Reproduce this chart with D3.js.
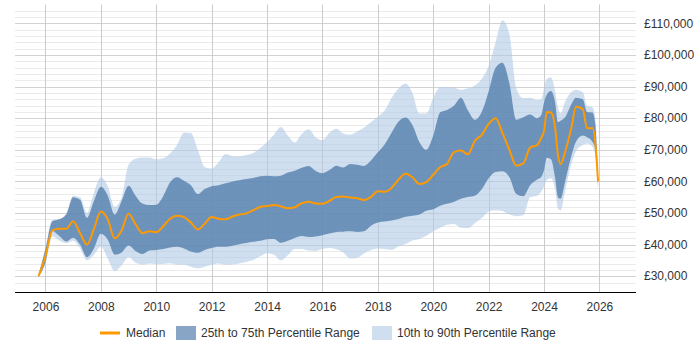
<!doctype html>
<html>
<head>
<meta charset="utf-8">
<title>Salary trend</title>
<script src="https://d3js.org/d3.v7.min.js"></script>
<style>
  html, body { margin:0; padding:0; background:#fff; overflow:hidden }
  svg text { font-family: "Liberation Sans", Arial, sans-serif; font-size: 12px; fill: #333 }
</style>
</head>
<body>
<div id="chart"></div>
<script>
// decimal years of each sample
var years = [2005.75, 2006.0, 2006.25, 2006.5, 2006.75, 2007.0, 2007.25, 2007.5, 2007.75,
  2008.0, 2008.25, 2008.5, 2008.75, 2009.0, 2009.25, 2009.5, 2009.75,
  2010.0, 2010.25, 2010.5, 2010.75, 2011.0, 2011.25, 2011.5, 2011.75,
  2012.0, 2012.25, 2012.5, 2012.75, 2013.0, 2013.25, 2013.5, 2013.75,
  2014.0, 2014.25, 2014.5, 2014.75, 2015.0, 2015.25, 2015.5, 2015.75,
  2016.0, 2016.25, 2016.5, 2016.75, 2017.0, 2017.25, 2017.5, 2017.75,
  2018.0, 2018.25, 2018.5, 2018.75, 2019.0, 2019.25, 2019.5, 2019.75,
  2020.0, 2020.25, 2020.5, 2020.75, 2021.0, 2021.25, 2021.5, 2021.75,
  2022.0, 2022.25, 2022.5, 2022.75, 2023.0, 2023.25, 2023.5, 2023.75,
  2023.9, 2024.0, 2024.1, 2024.25, 2024.4, 2024.5, 2024.6, 2024.75,
  2025.0, 2025.15, 2025.4, 2025.55, 2025.75, 2025.85, 2025.95];

// salaries in £ thousands
var p10K = [29.5, 34.0, 42.6, 41.3, 40.4, 41.2, 38.8, 35.0, 36.8,
  39.3, 35.5, 31.6, 33.5, 36.0, 34.3, 33.6, 34.0,
  33.8, 33.9, 34.1, 33.6, 33.6, 33.0, 32.5, 33.0,
  33.6, 34.0, 33.6, 33.7, 34.0, 34.5, 35.1, 36.3,
  37.3, 36.8, 35.0, 36.6, 38.6, 38.6, 38.1, 38.0,
  38.6, 38.9, 38.5, 37.5, 35.6, 35.8, 37.2, 38.3,
  38.8, 38.6, 38.3, 39.5, 40.2, 41.3, 41.8, 42.8,
  44.2, 45.3, 46.3, 46.5, 45.3, 45.2, 46.8, 48.4,
  50.5, 50.9, 50.6, 49.5, 49.0, 49.3, 55.0, 55.5,
  56.8, 58.5, 60.5, 61.0, 57.5, 51.5, 50.8, 56.5,
  66.0, 69.5, 71.5, 72.0, 71.0, 68.0, 57.5];

var p25K = [29.8, 34.5, 44.3, 42.7, 41.0, 42.2, 40.0, 36.0, 38.8,
  43.4, 41.5, 36.8, 37.5, 39.7, 38.0, 37.0, 38.1,
  38.3, 38.6, 39.1, 39.3, 38.8, 37.8, 37.4, 38.3,
  38.9, 39.3, 39.3, 39.6, 40.1, 40.5, 40.9, 41.2,
  41.7, 41.8, 40.6, 41.2, 42.1, 42.7, 42.4, 42.6,
  43.0, 43.5, 44.0, 44.1, 44.2, 44.0, 44.2, 46.0,
  47.0, 47.3, 47.6, 48.1, 48.8, 49.1, 49.5, 50.7,
  51.2, 52.3, 52.9, 53.6, 54.5, 55.1, 55.5, 57.5,
  61.0, 63.0, 63.2, 61.3, 56.0, 55.3, 58.8, 60.6,
  61.4, 63.5, 67.5, 67.0, 61.0, 55.0, 54.5, 59.5,
  68.5, 72.5, 74.5, 74.0, 72.5, 70.5, 58.5];

var medianK = [30.0, 36.3, 44.5, 45.0, 45.0, 47.4, 43.6, 40.0, 45.0,
  50.5, 48.0, 42.0, 44.5, 49.8, 46.5, 43.6, 44.2,
  43.9, 45.8, 48.2, 49.1, 48.7, 47.0, 44.8, 46.6,
  48.7, 48.2, 48.0, 48.9, 49.5, 49.9, 50.9, 51.9,
  52.2, 52.5, 52.1, 51.5, 51.8, 53.1, 53.6, 53.0,
  52.9, 53.8, 55.1, 55.2, 54.9, 54.7, 54.1, 55.1,
  56.9, 56.7, 58.0, 60.6, 62.4, 61.3, 59.2, 59.8,
  62.1, 64.5, 65.5, 69.3, 69.8, 68.6, 72.8, 74.7,
  78.2, 80.0, 75.3, 70.0, 65.0, 65.7, 70.7, 71.5,
  73.8, 76.0, 82.0, 81.8, 77.0, 68.5, 65.5, 69.0,
  77.5, 83.6, 82.9, 76.8, 76.9, 72.3, 60.0];

var p75K = [30.5, 38.5, 47.4, 48.0, 49.5, 55.0, 54.2, 48.5, 53.8,
  58.3, 55.5, 49.5, 53.8, 58.6, 55.5, 53.0, 52.5,
  52.6, 55.3, 59.7, 61.3, 60.2, 58.8, 56.0, 57.6,
  58.5, 58.8, 59.4, 60.0, 60.4, 60.8, 61.1, 61.6,
  61.8, 61.6, 61.8, 62.8, 63.4, 64.3, 64.9, 63.4,
  62.6, 63.6, 65.0, 64.4, 65.5, 65.3, 64.9, 66.6,
  69.2, 71.8, 75.5, 79.0, 80.2, 77.8, 72.5, 70.0,
  74.5, 81.9, 82.6, 84.0, 86.5, 82.5, 79.5, 82.0,
  88.5, 96.0, 97.6, 91.0, 79.5, 80.3, 81.2, 80.0,
  81.0, 85.0, 87.5, 88.6, 85.0, 78.8, 79.2, 80.2,
  84.7, 86.5, 86.0, 82.0, 81.8, 78.0, 60.4];

var p90K = [30.5, 39.0, 47.8, 48.0, 50.0, 55.5, 55.0, 50.0, 56.5,
  61.3, 58.5, 52.0, 55.0, 65.3, 67.2, 67.6, 67.6,
  67.0, 67.3, 68.8, 71.5, 75.5, 75.3, 70.0, 64.5,
  64.1, 66.1, 68.7, 68.0, 68.0, 68.4, 69.0, 70.5,
  72.5, 74.8, 77.2, 74.5, 72.3, 75.0, 76.5, 74.0,
  73.1, 75.4, 76.7, 75.2, 74.8, 75.8, 77.0, 78.8,
  80.5, 82.5, 86.5, 89.5, 91.0, 88.0, 81.5, 81.5,
  86.5, 89.8, 89.9, 89.7, 89.0, 89.5, 90.4, 92.5,
  96.5, 104.0, 111.0, 106.5, 89.5, 86.4, 86.5, 85.8,
  86.0, 89.5, 92.5, 93.0, 88.5, 83.5, 81.5, 85.0,
  88.5, 89.0, 88.2, 84.0, 83.4, 80.0, 61.0];

var xTicks = [2006, 2008, 2010, 2012, 2014, 2016, 2018, 2020, 2022, 2024, 2026];
var yTicksK = [30, 40, 50, 60, 70, 80, 90, 100, 110];
var legendLabels = ["Median", "25th to 75th Percentile Range", "10th to 90th Percentile Range"];

var svg = d3.select("#chart").append("svg")
  .attr("width", 700).attr("height", 350);

var x = d3.scaleLinear().domain([2004.9, 2027.32]).range([15, 636]);
var y = d3.scaleLinear().domain([25, 116]).range([292, 4.5]);

// minor + major horizontal grid
svg.append("g").selectAll("line")
  .data(d3.range(28, 115, 2).filter(function(v) { return v % 10 !== 0; }))
  .join("line")
  .attr("x1", 15).attr("x2", 636)
  .attr("y1", function(d) { return Math.round(y(d)) + 0.5; })
  .attr("y2", function(d) { return Math.round(y(d)) + 0.5; })
  .attr("stroke", "#ebebeb");

svg.append("g").selectAll("line")
  .data(yTicksK)
  .join("line")
  .attr("x1", 15).attr("x2", 636)
  .attr("y1", function(d) { return Math.round(y(d)) + 0.5; })
  .attr("y2", function(d) { return Math.round(y(d)) + 0.5; })
  .attr("stroke", "#d2d2d2");

svg.append("g").selectAll("line")
  .data(xTicks)
  .join("line")
  .attr("x1", function(d) { return Math.round(x(d)) + 0.5; })
  .attr("x2", function(d) { return Math.round(x(d)) + 0.5; })
  .attr("y1", 4.5).attr("y2", 292)
  .attr("stroke", "#cccccc");

var idx = d3.range(years.length);

function band(lo, hi) {
  return d3.area()
    .x(function(i) { return x(years[i]); })
    .y0(function(i) { return y(lo[i]); })
    .y1(function(i) { return y(hi[i]); })
    .curve(d3.curveMonotoneX)(idx);
}

svg.append("path").attr("d", band(p10K, p90K))
  .attr("fill", "#b0c9e4").attr("fill-opacity", 0.6);
svg.append("path").attr("d", band(p25K, p75K))
  .attr("fill", "#5580ae").attr("fill-opacity", 0.8);

svg.append("path")
  .attr("d", d3.line()
    .x(function(i) { return x(years[i]); })
    .y(function(i) { return y(medianK[i]); })
    .curve(d3.curveMonotoneX)(idx))
  .attr("fill", "none").attr("stroke", "#ff9900").attr("stroke-width", 2);

// x axis
var xAxis = svg.append("g").attr("transform", "translate(0,292)")
  .call(d3.axisBottom(x).tickValues(xTicks).tickSize(0).tickPadding(10).tickFormat(d3.format("d")));
xAxis.select(".domain").attr("stroke", "#000").attr("d", "M15,0.5H636");
xAxis.selectAll("text").attr("font-size", 12).attr("font-family", null).attr("fill", "#333");

// y labels on the right
var fmt = d3.format(",");
svg.append("g").selectAll("text")
  .data(yTicksK)
  .join("text")
  .attr("x", 644)
  .attr("y", function(d) { return y(d); })
  .attr("dy", "0.35em")
  .text(function(d) { return "£" + fmt(d * 1000); });

// legend
var lg = svg.append("g").attr("transform", "translate(0,333)");
lg.append("line").attr("x1", 100).attr("x2", 120).attr("y1", 0).attr("y2", 0)
  .attr("stroke", "#ff9900").attr("stroke-width", 3);
lg.append("text").attr("x", 126).attr("dy", "0.35em").text(legendLabels[0]);
lg.append("rect").attr("x", 176).attr("y", -7).attr("width", 20).attr("height", 14).attr("fill", "#88a5c6");
lg.append("text").attr("x", 201).attr("dy", "0.35em").text(legendLabels[1]);
lg.append("rect").attr("x", 372).attr("y", -7).attr("width", 20).attr("height", 14).attr("fill", "#d0dff0");
lg.append("text").attr("x", 397).attr("dy", "0.35em").text(legendLabels[2]);
</script>
</body>
</html>
